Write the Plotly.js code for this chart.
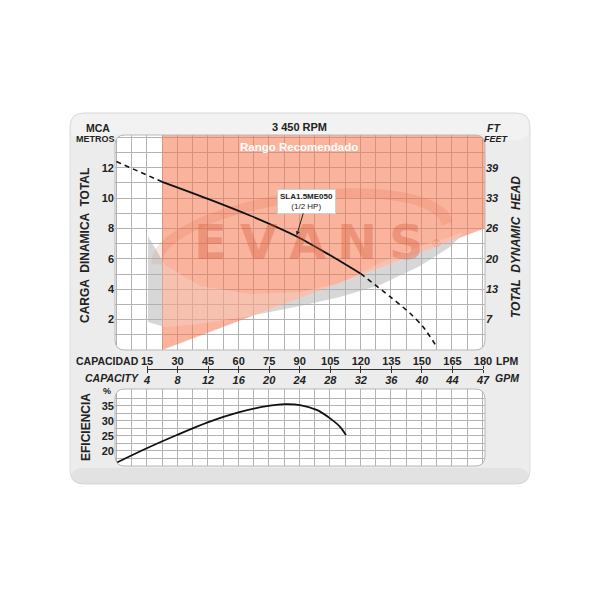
<!DOCTYPE html>
<html><head><meta charset="utf-8">
<script src="https://cdn.plot.ly/plotly-3.0.1.min.js"></script>
<style>html,body{margin:0;padding:0;background:#fff}#chart{width:600px;height:600px}</style>
</head><body><div id="chart"></div>
<script>
// ---- data ----
const lpmTicks = [15,30,45,60,75,90,105,120,135,150,165,180];
const gpmTickText = ['4','8','12','16','20','24','28','32','36','40','44','47'];
const headTicksM = [2,4,6,8,10,12];
const headTicksFt = ['7','13','20','26','33','39'];
const effTicks = [20,25,30,35];
// pump curve (LPM, metres)
const headDashLowLPM = [0, 11, 22.5];
const headDashLowM   = [12.40, 11.75, 11.07];
const headSolidLPM = [22.5, 46.0, 65.7, 88.7, 104.9, 120];
const headSolidM   = [11.07, 9.90, 8.85, 7.47, 6.25, 5.04];
const headDashHighLPM = [120, 134.6, 144.4, 151, 157.5];
const headDashHighM   = [5.04, 3.51, 2.42, 1.50, 0.22];
// efficiency curve (LPM, %)
const effLPM = [0, 14.9, 29.7, 44.9, 60.0, 75.5, 83, 90.3, 98.5, 105.1, 110.0, 112.9];
const effPct = [16.1, 20.9, 25.3, 29.5, 32.8, 35.0, 35.5, 35.2, 33.6, 30.8, 28.0, 25.3];
// recommended range polygon (LPM, metres)
const recLPM = [22.5, 22.5, 183, 183];
const recM   = [0, 14.3, 14.3, 8.10];
const modelName = 'SLA1.5ME050';
const modelHP = '(1/2 HP)';

// ---- geometry helpers ----
const X_RANGE = [-0.7, 181.3], Y_RANGE = [0, 14.15], EFF_RANGE = [15.03, 40.53];
const PX = {l:115, r:485, t:135, b:350, et:389, eb:466};
function fx(px){return px/600;}
function fy(py){return 1-py/600;}
function P(x,y){return fx(x).toFixed(5)+','+fy(y).toFixed(5);}
function dX(px){return (px-PX.l)/(PX.r-PX.l)*(X_RANGE[1]-X_RANGE[0])+X_RANGE[0];}
function dY(py){return (PX.b-py)/(PX.b-PX.t)*(Y_RANGE[1]-Y_RANGE[0]);}
function pX(d){return PX.l+(d-X_RANGE[0])/(X_RANGE[1]-X_RANGE[0])*(PX.r-PX.l);}
function pY(d){return PX.b-(d-Y_RANGE[0])/(Y_RANGE[1]-Y_RANGE[0])*(PX.b-PX.t);}
function roundRect(x0,y0,x1,y1,r){
  return `M ${P(x0+r,y0)} L ${P(x1-r,y0)} Q ${P(x1,y0)} ${P(x1,y0+r)} L ${P(x1,y1-r)} Q ${P(x1,y1)} ${P(x1-r,y1)} L ${P(x0+r,y1)} Q ${P(x0,y1)} ${P(x0,y1-r)} L ${P(x0,y0+r)} Q ${P(x0,y0)} ${P(x0+r,y0)} Z`;
}
function cornerMasks(x0,y0,x1,y1,r,color){
  const m=[
    `M ${P(x0-1,y0-1)} L ${P(x0+r,y0-1)} L ${P(x0+r,y0)} Q ${P(x0,y0)} ${P(x0,y0+r)} L ${P(x0-1,y0+r)} Z`,
    `M ${P(x1+1,y0-1)} L ${P(x1-r,y0-1)} L ${P(x1-r,y0)} Q ${P(x1,y0)} ${P(x1,y0+r)} L ${P(x1+1,y0+r)} Z`,
    `M ${P(x0-1,y1+1)} L ${P(x0+r,y1+1)} L ${P(x0+r,y1)} Q ${P(x0,y1)} ${P(x0,y1-r)} L ${P(x0-1,y1-r)} Z`,
    `M ${P(x1+1,y1+1)} L ${P(x1-r,y1+1)} L ${P(x1-r,y1)} Q ${P(x1,y1)} ${P(x1,y1-r)} L ${P(x1+1,y1-r)} Z`];
  return m.map(p=>({type:'path',xref:'paper',yref:'paper',path:p,fillcolor:color,line:{width:0},layer:'above'}));
}
function ellipsePts(cx,cy,rx,ry,t0,t1,rot,n){
  const out=[]; const c=Math.cos(rot), s=Math.sin(rot);
  for(let i=0;i<=n;i++){const t=t0+(t1-t0)*i/n; const ex=rx*Math.cos(t), ey=ry*Math.sin(t);
    out.push([cx+ex*c+ey*s, cy-ex*s+ey*c]);}
  return out;
}
function toPath(pts){
  if(!pts.length) return 'M 0,0 Z';
  return 'M '+pts.map(p=>dX(p[0]).toFixed(3)+','+dY(p[1]).toFixed(3)).join(' L ')+' Z';
}
function clipHalf(poly,f){
  const out=[];
  for(let i=0;i<poly.length;i++){
    const cur=poly[i], prev=poly[(i+poly.length-1)%poly.length];
    const fc=f(cur), fp=f(prev);
    const inter=()=>{const t=fp/(fp-fc); return [prev[0]+t*(cur[0]-prev[0]), prev[1]+t*(cur[1]-prev[1])];};
    if(fc<=0){ if(fp>0) out.push(inter()); out.push(cur); }
    else if(fp<=0){ out.push(inter()); }
  }
  return out;
}
const rot = 8*Math.PI/180;
// logo swoosh (pixel outline, decorative watermark)
const swooshX = [148,165,200,250,300,340,380,420,450,462];
const swooshOuter = [322,327,324,316,306,297,285,266,247,235];
const swooshInner = [236,265,286,294,292,283,263,246,237,232];
const swoosh = swooshX.map((x,i)=>[x,swooshOuter[i]]).concat(swooshX.map((x,i)=>[x,swooshInner[i]]).reverse());
const xa = pX(recLPM[0]), ya = pY(recM[0]), xb = pX(recLPM[3]), yb = pY(recM[3]);
const slope = (yb-ya)/(xb-xa);
const fRight = p=> xa - p[0];
const fLeft  = p=> p[0] - xa;
const fAbove = p=> p[1] - (ya + slope*(p[0]-xa));
const fBelow = p=> -fAbove(p);
const swooshIn  = clipHalf(clipHalf(swoosh,fRight),fAbove);
const swooshOutL = clipHalf(swoosh,fLeft);
const swooshOutR = clipHalf(clipHalf(swoosh,fRight),fBelow);
const orangeRing = toPath(ellipsePts(302,243,152,51,Math.PI,2*Math.PI,rot,60).concat(ellipsePts(302,245,141,43,2*Math.PI,Math.PI,rot,60)));
const recPath = 'M '+recLPM.map((x,i)=>x+','+recM[i]).join(' L ')+' Z';

const FONT = 'Liberation Sans, Arial, Helvetica, sans-serif';
const DARK = '#222222';
const PANEL = '#ececec';
const GRID = '#b3b3b3';

const gridX = []; for(let v=0; v<=180; v+=7.5) gridX.push(v);
const gridY = []; for(let v=1; v<=14; v++) gridY.push(v);
const gridYText = gridY.map(v=> headTicksM.includes(v)? String(v): '');
const gridE = []; for(let v=17.5; v<=38; v+=2.5) gridE.push(v);
const gridEText = gridE.map(v=> effTicks.includes(v)? String(v): '');

const traces = [
  {x: headDashLowLPM, y: headDashLowM, mode:'lines', line:{color:'#111',width:1.6,dash:'5px,4px'}, xaxis:'x', yaxis:'y', hoverinfo:'skip'},
  {x: headSolidLPM, y: headSolidM, mode:'lines', line:{color:'#111',width:1.8,shape:'spline',smoothing:0.8}, xaxis:'x', yaxis:'y', hoverinfo:'skip'},
  {x: headDashHighLPM, y: headDashHighM, mode:'lines', line:{color:'#111',width:1.6,dash:'5px,4px',shape:'spline',smoothing:0.8}, xaxis:'x', yaxis:'y', hoverinfo:'skip'},
  {x: [0], y: [0], mode:'markers', marker:{opacity:0}, xaxis:'x', yaxis:'y2', hoverinfo:'skip'},
  {x: effLPM, y: effPct, mode:'lines', line:{color:'#111',width:1.8,shape:'spline',smoothing:0.9}, xaxis:'x2', yaxis:'y3', hoverinfo:'skip'},
  {x: [lpmTicks[0], lpmTicks[lpmTicks.length-1]], y:[0,0], mode:'markers', marker:{opacity:0}, xaxis:'x3', yaxis:'y4', hoverinfo:'skip'},
  {x: [lpmTicks[0], lpmTicks[lpmTicks.length-1]], y:[0,0], mode:'markers', marker:{opacity:0}, xaxis:'x4', yaxis:'y4', hoverinfo:'skip'}
];

const tickFont = {family:FONT, size:11, color:DARK, weight:'bold'};
const tickFontI = {family:FONT, size:11, color:DARK, weight:'bold', style:'italic'};
const midY = fy(369.3);

const shapes = [
  {type:'path',xref:'paper',yref:'paper',path:roundRect(70,113,530,484,14),fillcolor:PANEL,line:{color:'#dadada',width:1},layer:'below'},
  {type:'path',xref:'paper',yref:'paper',path:roundRect(71,114,529,140,13),fillcolor:'rgba(255,255,255,0.35)',line:{width:0},layer:'below'},
  {type:'path',xref:'paper',yref:'paper',path:roundRect(71,468,529,484,12),fillcolor:'rgba(0,0,0,0.04)',line:{width:0},layer:'below'},
  {type:'path',xref:'paper',yref:'paper',path:roundRect(PX.l,PX.t,PX.r,PX.b,10),fillcolor:'#ffffff',line:{width:0},layer:'below'},
  {type:'path',xref:'paper',yref:'paper',path:roundRect(PX.l,PX.et,PX.r,PX.eb,10),fillcolor:'#ffffff',line:{width:0},layer:'below'},
  {type:'path',xref:'x',yref:'y',path:recPath,fillcolor:'rgba(246,118,78,0.55)',line:{width:0},layer:'between'},
  {type:'path',xref:'x',yref:'y',path:orangeRing,fillcolor:'rgba(225,95,60,0.17)',line:{width:0},layer:'between'},
  {type:'path',xref:'x',yref:'y',path:toPath(swooshIn),fillcolor:'rgba(240,226,222,0.28)',line:{width:0},layer:'between'},
  {type:'path',xref:'x',yref:'y',path:toPath(swooshOutL),fillcolor:'rgba(175,175,175,0.5)',line:{width:0},layer:'between'},
  {type:'path',xref:'x',yref:'y',path:toPath(swooshOutR),fillcolor:'rgba(175,175,175,0.5)',line:{width:0},layer:'between'},
  ...cornerMasks(PX.l,PX.t,PX.r,PX.b,10,PANEL),
  ...cornerMasks(PX.l,PX.et,PX.r,PX.eb,10,PANEL),
  {type:'path',xref:'paper',yref:'paper',path:roundRect(PX.l,PX.t,PX.r,PX.b,10),fillcolor:'rgba(0,0,0,0)',line:{color:'#b8b8b8',width:1},layer:'above'},
  {type:'path',xref:'paper',yref:'paper',path:roundRect(PX.l,PX.et,PX.r,PX.eb,10),fillcolor:'rgba(0,0,0,0)',line:{color:'#b8b8b8',width:1},layer:'above'}
];

function txt(text,x,y,size,opts){
  return Object.assign({text:text,xref:'paper',yref:'paper',x:fx(x),y:fy(y),xanchor:'center',yanchor:'middle',showarrow:false,
    font:{family:FONT,size:size,color:DARK,weight:'bold'}},opts||{});
}
function itxt(text,x,y,size,opts){
  return txt(text,x,y,size,Object.assign({font:{family:FONT,size:size,color:DARK,weight:'bold',style:'italic'}},opts||{}));
}
const logoColor = 'rgba(215,85,55,0.34)';
const logoFont = {family:'DejaVu Sans',size:48,color:logoColor,weight:'bold'};
const annotations = [
  txt('MCA',98,127.5,10.5),
  txt('METROS',95,138.5,9),
  txt('3 450 RPM',299,127,11),
  itxt('FT',494,127.5,10.5),
  itxt('FEET',496,138.5,9),
  txt('CARGA  DINAMICA  TOTAL',85,246,12,{textangle:-90}),
  itxt('TOTAL  DYNAMIC  HEAD',516,247,12,{textangle:-90}),
  txt('CAPACIDAD',107.5,361,10.5),
  txt('LPM',507,361,10.5),
  itxt('CAPACITY',112,378,10.5),
  itxt('GPM',507,378,10.5),
  txt('%',107,391,9),
  txt('EFICIENCIA',86,427,12,{textangle:-90}),
  txt('E',210,242,48,{font:logoFont}),
  txt('V',258,242,48,{font:logoFont}),
  txt('A',307,242,48,{font:logoFont}),
  txt('N',357,242,48,{font:logoFont}),
  txt('S',406,242,48,{font:logoFont}),
  txt('®',436,243,11,{font:{family:'DejaVu Sans',size:11,color:logoColor}}),
  txt('Rango Recomendado',299,147,11.5,{font:{family:FONT,size:11.5,color:'#ffffff',weight:'bold'}}),
  {xref:'x',yref:'y',x:88.7,y:7.55,ax:10,ay:-34,showarrow:true,arrowhead:2,arrowsize:0.8,arrowwidth:1,arrowcolor:'#222',
   text:'<b>'+modelName+'</b><br>'+modelHP,font:{family:FONT,size:8,color:DARK},
   bgcolor:'#ffffff',bordercolor:'#cfcfcf',borderwidth:1,borderpad:2,align:'center'}
];
// fix itxt rotation (textangle passed through opts merge order)
annotations[6].textangle = -90;

const layout = {
  width:600, height:600, margin:{l:0,r:0,t:0,b:0},
  paper_bgcolor:'#ffffff', plot_bgcolor:'rgba(0,0,0,0)', showlegend:false,
  xaxis:{domain:[fx(PX.l),fx(PX.r)], range:X_RANGE, anchor:'y', tickmode:'array', tickvals:gridX, showticklabels:false,
         ticks:'', showgrid:true, gridcolor:GRID, gridwidth:1, zeroline:false, showline:false, fixedrange:true},
  yaxis:{domain:[fy(PX.b),fy(PX.t)], range:Y_RANGE, anchor:'x', tickmode:'array', tickvals:gridY, ticktext:gridYText,
         ticks:'', tickfont:tickFont, showgrid:true, gridcolor:GRID, gridwidth:1, zeroline:false, showline:false, fixedrange:true},
  yaxis2:{overlaying:'y', side:'right', anchor:'x', range:Y_RANGE, tickmode:'array', tickvals:headTicksM, ticktext:headTicksFt,
         ticks:'', showgrid:false, zeroline:false, showline:false, tickfont:tickFontI, fixedrange:true},
  xaxis2:{domain:[fx(PX.l),fx(PX.r)], range:X_RANGE, anchor:'y3', tickmode:'array', tickvals:gridX, showticklabels:false,
         ticks:'', showgrid:true, gridcolor:GRID, gridwidth:1, zeroline:false, showline:false, fixedrange:true},
  yaxis3:{domain:[fy(PX.eb),fy(PX.et)], range:EFF_RANGE, anchor:'x2', tickmode:'array', tickvals:gridE, ticktext:gridEText,
         ticks:'', tickfont:tickFont, showgrid:true, gridcolor:GRID, gridwidth:1, zeroline:false, showline:false, fixedrange:true},
  xaxis3:{domain:[fx(147),fx(483)], range:[15,180], anchor:'free', position:midY, side:'top', tickmode:'array', tickvals:lpmTicks,
         ticks:'outside', ticklen:3, tickcolor:'#333', tickwidth:1, showline:true, linecolor:'#333', linewidth:1, ticklabelstandoff:-3,
         showgrid:false, zeroline:false, tickfont:tickFont, fixedrange:true},
  xaxis4:{overlaying:'x3', range:[15,180], anchor:'free', position:midY, side:'bottom', tickmode:'array', tickvals:lpmTicks, ticktext:gpmTickText,
         ticks:'outside', ticklen:3, tickcolor:'#333', tickwidth:1, showline:true, linecolor:'#333', linewidth:1, ticklabelstandoff:-3,
         showgrid:false, zeroline:false, tickfont:tickFontI, fixedrange:true},
  yaxis4:{domain:[fy(372),fy(366)], range:[-1,1], anchor:'x3', visible:false, fixedrange:true},
  shapes:shapes, annotations:annotations
};
Plotly.newPlot('chart', traces, layout, {staticPlot:true, displayModeBar:false});
</script></body></html>
